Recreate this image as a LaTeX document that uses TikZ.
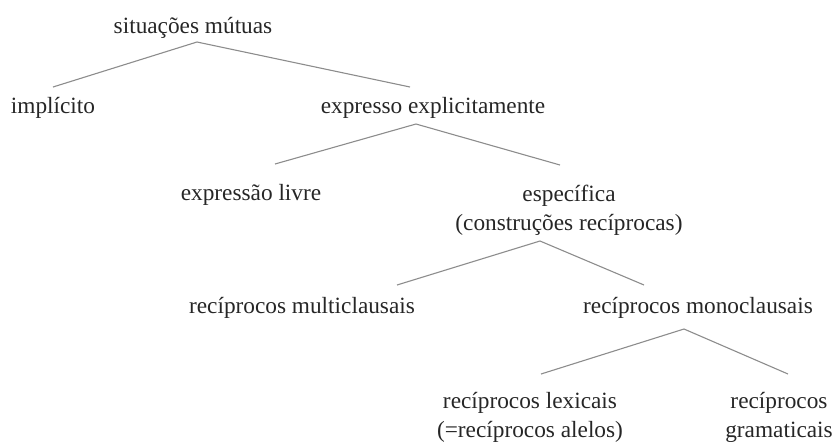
\documentclass[tikz,border=0pt]{standalone}
\usepackage{fontspec}
\setmainfont{Liberation Serif}
\usepackage{xcolor}
\definecolor{linegray}{HTML}{8C8C8C}
\definecolor{textgray}{HTML}{262626}
\usepackage{tikz}
\usetikzlibrary{positioning, calc}

\begin{document}
\begin{tikzpicture}[x=0.5pt, y=-0.5pt,
    lbl/.style={anchor=base, inner sep=0pt, align=center, text=textgray,
      font=\fontsize{11.65}{14.5}\selectfont},
    branch/.style={draw=linegray, line width=0.55pt}]
  % Canvas (pixel units, y downwards)
  \useasboundingbox (0,0) rectangle (834,441);

  % Level 0 and 1
  \node[lbl] (root) at (193,33) {situações mútuas};
  \node[lbl] (impl) at (53,113) {implícito};
  \node[lbl] (expl) at (433,113) {expresso explicitamente};

  % Level 2 (base = last line)
  \node[lbl] (livre) at (251,200) {expressão livre};
  \node[lbl] (espec) at (569,230) {específica\\(construções recíprocas)};

  % Level 3
  \node[lbl] (multi) at (302,313) {recíprocos multiclausais};
  \node[lbl] (mono) at (698,313) {recíprocos monoclausais};

  % Level 4
  \node[lbl] (lex) at (530,437) {recíprocos lexicais\\(=recíprocos alelos)};
  \node[lbl] (gram) at (779,437) {recíprocos\\gramaticais};

  % Branches
  \draw[branch] ($(impl.base)+(0,-26)$) -- ($(root.base)+(4,9)$) -- ($(expl.base)+(-23,-26)$);
  \draw[branch] ($(livre.base)+(24,-36)$) -- ($(expl.base)+(-17,11)$) -- ($(espec.base)+(-9,-65)$);
  \draw[branch] ($(multi.base)+(95,-28)$) -- ($(espec.base)+(-29,11)$) -- ($(mono.base)+(-54,-28)$);
  \draw[branch] ($(lex.base)+(11,-63)$) -- ($(mono.base)+(-14,16)$) -- ($(gram.base)+(9,-63)$);
\end{tikzpicture}
\end{document}
